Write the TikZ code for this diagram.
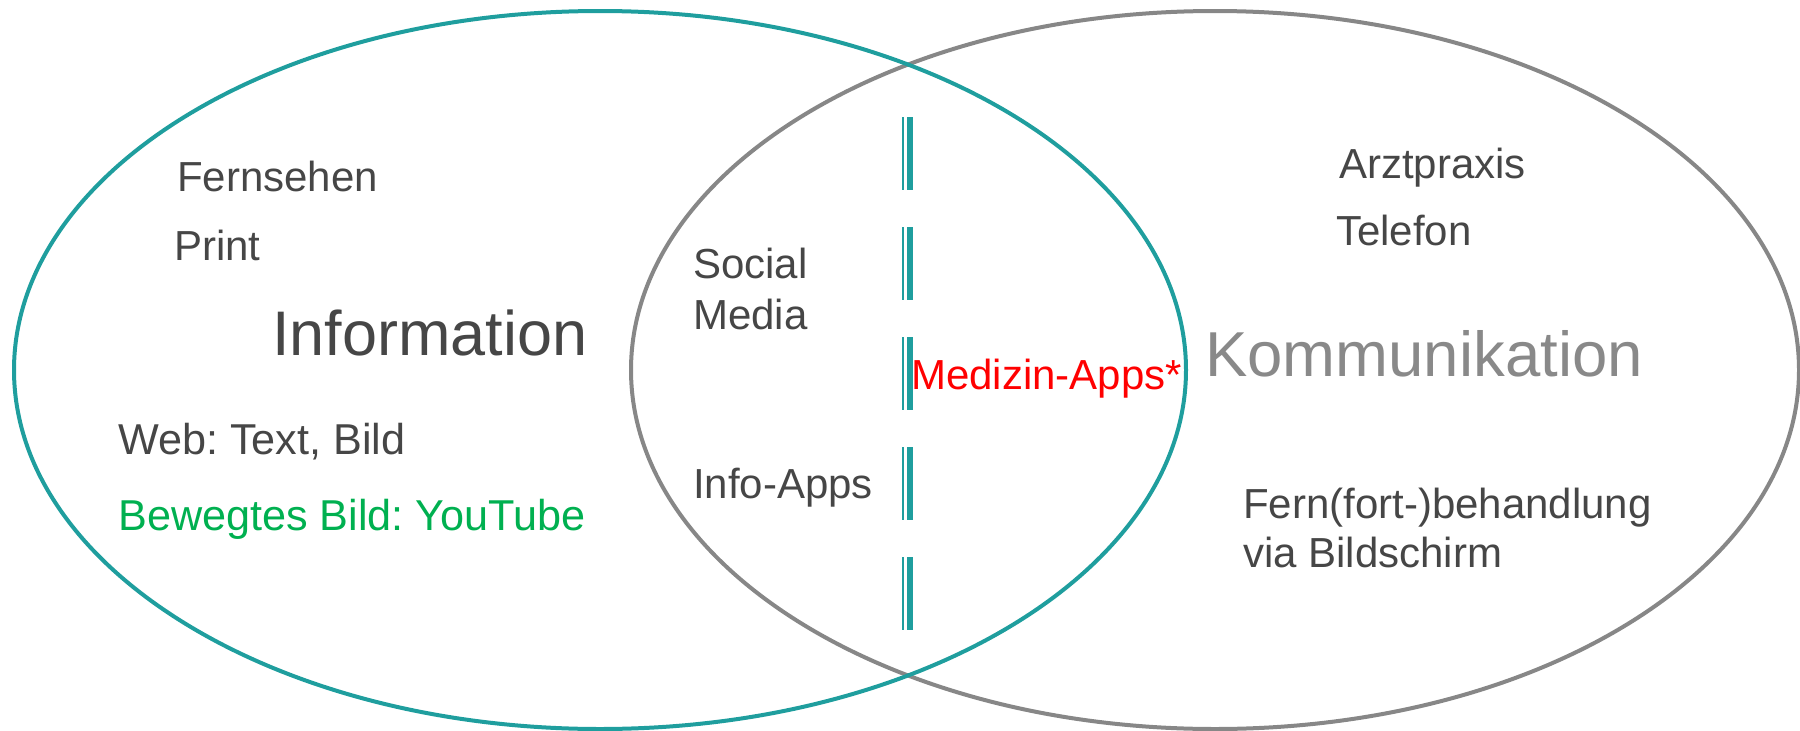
\documentclass[tikz,border=0pt]{standalone}
\usepackage{fontspec}
\setmainfont{Liberation Sans}
\frenchspacing
\definecolor{teal1}{RGB}{31,158,158}
\definecolor{grayring}{RGB}{135,135,135}
\definecolor{darktext}{RGB}{70,70,70}
\definecolor{graytext}{RGB}{137,137,137}
\definecolor{greentext}{RGB}{0,176,80}
\definecolor{redtext}{RGB}{255,0,0}
\tikzset{
  ring/.style={line width=4pt},
  lbl/.style={inner sep=0pt, anchor=base west, text=darktext, font=\fontsize{42}{51}\selectfont, align=left},
  big/.style={lbl, font=\fontsize{63}{75}\selectfont},
  divider/.style={teal1, dash pattern=on 73pt off 37pt},
}
\begin{document}
\begin{tikzpicture}[x=1pt,y=-1pt]
\useasboundingbox (0,0) rectangle (1800,731);
\draw[ring, grayring] (1215,370) ellipse [x radius=584pt, y radius=359pt];
\draw[ring, teal1] (600,370) ellipse [x radius=586pt, y radius=359pt];
\coordinate (d1top) at (903,117);
\coordinate (d1bot) at (903,630);
\coordinate (d2top) at (910,117);
\coordinate (d2bot) at (910,630);
\draw[divider, line width=2pt] (d1top) -- (d1bot);
\draw[divider, line width=6pt] (d2top) -- (d2bot);
\node[lbl] (fern) at (177,191) {Fernsehen};
\node[lbl] (print) at (174,260) {Print};
\node[big] (info) at (272,355) {Information};
\node[lbl, font=\fontsize{43.2}{51}\selectfont] (web) at (118,454) {Web: Text, Bild};
\node[lbl, text=greentext, font=\fontsize{43.2}{51}\selectfont] (yt) at (118,530) {Bewegtes Bild: YouTube};
\node[lbl] (social) at (693,329) {Social\\Media};
\node[lbl] (infoapps) at (693,498) {Info-Apps};
\node[lbl, text=redtext] (med) at (911,389) {Medizin-Apps*};
\node[big, text=graytext, font=\fontsize{63.5}{76}\selectfont] (komm) at (1205,376) {Kommunikation};
\node[lbl] (arzt) at (1339,178) {Arztpraxis};
\node[lbl] (tel) at (1336,245) {Telefon};
\node[lbl, font=\fontsize{42}{49}\selectfont] (fernb) at (1243,567) {Fern(fort-)behandlung\\via Bildschirm};
\end{tikzpicture}
\end{document}
